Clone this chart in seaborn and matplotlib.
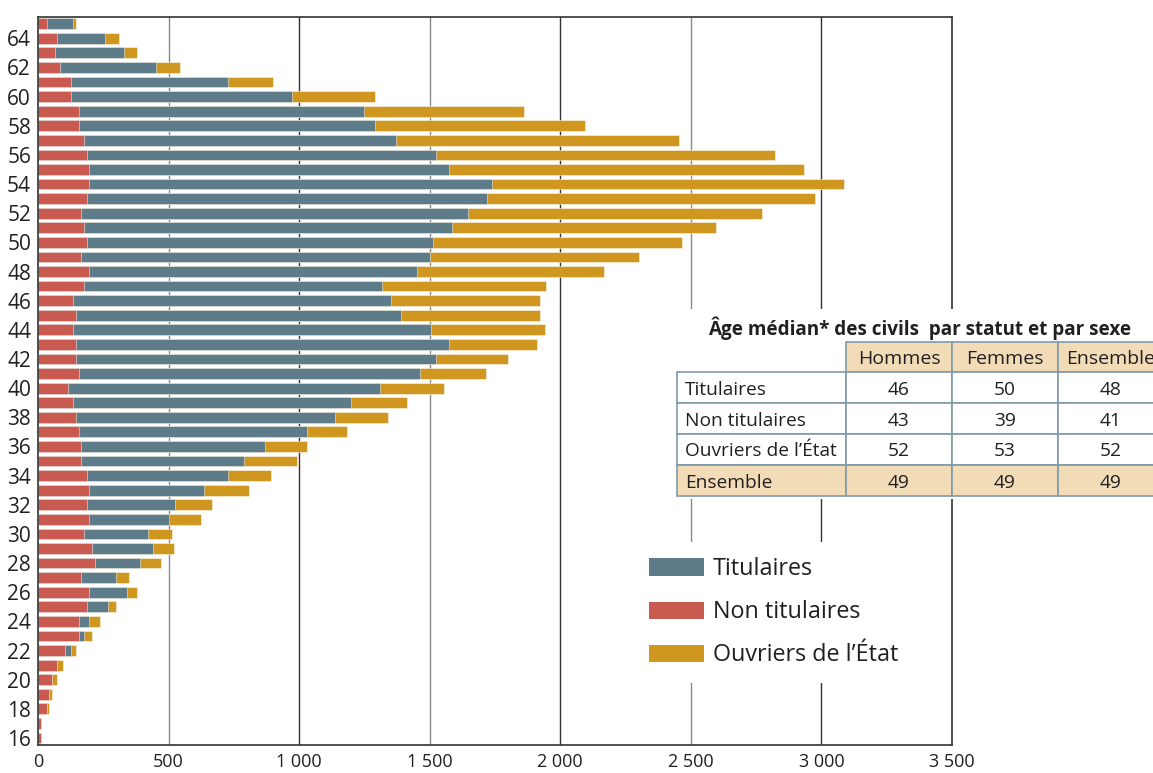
import matplotlib
matplotlib.use("Agg")
import matplotlib.pyplot as plt
from matplotlib.patches import Patch, Rectangle
import seaborn as sns
import numpy as np
import pandas as pd

# ---------------- data ----------------
ages = list(range(16, 66))
non_titulaires = [13, 13, 33, 42, 52, 73, 103, 156, 156, 186,
                  195, 165, 218, 207, 176, 195, 186, 195, 186, 165,
                  165, 156, 146, 134, 113, 156, 146, 146, 134, 146,
                  134, 176, 196, 166, 186, 176, 166, 186, 195, 195,
                  186, 176, 157, 157, 125, 125, 84, 64, 74, 33]
titulaires = [0, 0, 0, 0, 2, 0, 22, 19, 38, 81,
              144, 132, 173, 232, 245, 307, 337, 439, 541, 623,
              705, 876, 990, 1064, 1197, 1307, 1378, 1426, 1370, 1244,
              1217, 1143, 1255, 1337, 1326, 1409, 1482, 1533, 1543, 1380,
              1338, 1195, 1133, 1091, 847, 602, 368, 265, 183, 101]
ouvriers = [0, 0, 10, 12, 20, 21, 20, 30, 42, 32,
            40, 51, 81, 83, 91, 123, 143, 175, 164, 205,
            162, 153, 204, 214, 245, 254, 275, 340, 439, 532,
            572, 625, 716, 797, 953, 1013, 1123, 1256, 1350, 1358,
            1298, 1082, 806, 613, 318, 174, 92, 51, 52, 11]

series_names = ["Titulaires", "Non titulaires", "Ouvriers de l\u2019\u00c9tat"]
x_ticks = [0, 500, 1000, 1500, 2000, 2500, 3000, 3500]
x_tick_labels = ["0", "500", "1 000", "1 500", "2 000", "2 500", "3 000", "3 500"]
y_ticks = list(range(16, 65, 2))

table_title = "\u00c2ge m\u00e9dian* des civils  par statut et par sexe"
table_cols = ["Hommes", "Femmes", "Ensemble"]
table_rows = ["Titulaires", "Non titulaires", "Ouvriers de l\u2019\u00c9tat", "Ensemble"]
table_hommes = [46, 43, 52, 49]
table_femmes = [50, 39, 53, 49]
table_ensemble = [48, 41, 52, 49]

# ---------------- style ----------------
C_TIT = "#5e7b89"
C_NON = "#c95a4f"
C_OUV = "#cf971f"
TXT = "#231f20"
BORDER = "#7f9aab"
WHEAT = "#f2dcb8"

sns.set_theme(style="white")
plt.rcParams["font.family"] = ["Open Sans", "DejaVu Sans"]

W, H = 1153, 773
fig = plt.figure(figsize=(W / 100, H / 100), dpi=100)
ax = fig.add_axes([38 / W, 1 - 745 / H, (952 - 38) / W, (745 - 17) / H])

df = pd.DataFrame({"age": ages, "non": non_titulaires, "tit": titulaires, "ouv": ouvriers})
df["cum_tit"] = df["non"] + df["tit"]
df["cum_all"] = df["cum_tit"] + df["ouv"]

edge = (1, 1, 1, 0.55)
common = dict(y="age", orient="y", native_scale=True, width=0.74,
              edgecolor=edge, linewidth=0.6, ax=ax, zorder=3)
sns.barplot(data=df, x="cum_all", color=C_OUV, saturation=1, **common)
sns.barplot(data=df, x="cum_tit", color=C_TIT, saturation=1, **common)
sns.barplot(data=df, x="non", color=C_NON, saturation=1, **common)

ax.set_xlim(0, 3500)
ax.set_ylim(15.52, 65.46)
ax.set_xlabel("")
ax.set_ylabel("")

# grid lines
for v in x_ticks[1:-1]:
    col = "#333333" if v % 1000 == 0 else "#8a8a8a"
    ax.axvline(v, color=col, lw=1.0, zorder=1)

ax.set_xticks(x_ticks)
ax.set_xticklabels(x_tick_labels, fontsize=13, color=TXT)
ax.set_yticks(y_ticks)
ax.set_yticklabels([str(a) for a in y_ticks], fontsize=15, color=TXT)
ax.tick_params(axis="x", length=0, pad=6)
ax.tick_params(axis="y", length=0, pad=5)
for s in ax.spines.values():
    s.set_visible(True)
    s.set_color("#333333")
    s.set_linewidth(1.2)
    s.set_zorder(4)

# legend
handles = [Patch(facecolor=C_TIT, edgecolor="none"),
           Patch(facecolor=C_NON, edgecolor="none"),
           Patch(facecolor=C_OUV, edgecolor="none")]
leg = ax.legend(handles, series_names, loc="upper left",
                bbox_to_anchor=(634 / W, 1 - 542 / H), bbox_transform=fig.transFigure,
                fontsize=16.8, frameon=True, fancybox=False, framealpha=1,
                facecolor="white", edgecolor="none", borderpad=0.65, borderaxespad=0,
                handlelength=2.35, handleheight=0.75, handletextpad=0.38,
                labelspacing=0.82)
for t in leg.get_texts():
    t.set_color(TXT)
leg.set_zorder(10)


# ---------------- table (figure pixel coordinates) ----------------
def fx(px):
    return px / W


def fy(py):
    return 1 - py / H


def rect(x0, y0, x1, y1, fc, ec="none", lw=0, z=20):
    r = Rectangle((fx(x0), fy(y1)), fx(x1) - fx(x0), fy(y0) - fy(y1),
                  transform=fig.transFigure, facecolor=fc, edgecolor=ec,
                  linewidth=lw, zorder=z)
    fig.add_artist(r)


rect(677, 309, 1160, 499, "white", z=19)
fig.text(fx(920), fy(328), table_title, ha="center", va="center",
         fontsize=13.6, fontweight="bold", color=TXT, zorder=25)

col_x = [677, 846, 952, 1058, 1164]
row_y = [342, 372, 403, 434, 465, 496]

# header cells
for j, name in enumerate(table_cols):
    rect(col_x[j + 1], row_y[0], col_x[j + 2], row_y[1], WHEAT, BORDER, 1.2, z=21)
    fig.text(fx((col_x[j + 1] + col_x[j + 2]) / 2), fy((row_y[0] + row_y[1]) / 2 + 2),
             name, ha="center", va="center", fontsize=14, color=TXT, zorder=25)

values = [table_hommes, table_femmes, table_ensemble]
for i, lab in enumerate(table_rows):
    fc = WHEAT if i == len(table_rows) - 1 else "white"
    y0, y1 = row_y[i + 1], row_y[i + 2]
    for j in range(4):
        rect(col_x[j], y0, col_x[j + 1], y1, fc, BORDER, 1.2, z=21)
    fig.text(fx(685), fy((y0 + y1) / 2 + 2), lab, ha="left", va="center",
             fontsize=13.8, color=TXT, zorder=25)
    for j in range(3):
        fig.text(fx((col_x[j + 1] + col_x[j + 2]) / 2), fy((y0 + y1) / 2 + 2),
                 str(values[j][i]), ha="center", va="center",
                 fontsize=13.8, color=TXT, zorder=25)

fig.savefig("out.png", dpi=100, facecolor="white")
